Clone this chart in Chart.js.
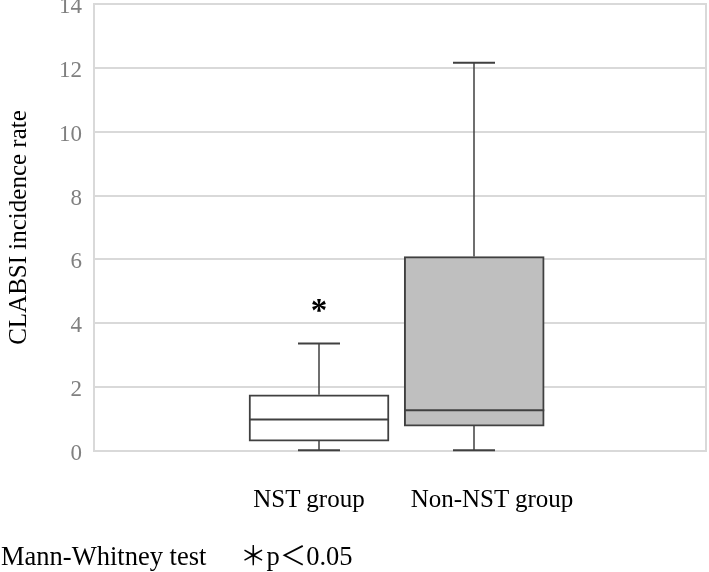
<!DOCTYPE html>
<html>
<head>
<meta charset="utf-8">
<script src="https://cdn.jsdelivr.net/npm/chart.js@4/dist/chart.umd.min.js"></script>
<style>
html, body { margin: 0; padding: 0; background: #ffffff; }
#wrap { position: relative; width: 709px; height: 572px; overflow: hidden; }
#c { position: absolute; left: 0; top: 0; }
.lbl { position: absolute; font-family: "Liberation Serif", "Times New Roman", serif; font-size: 25px; line-height: 25px; color: #000; white-space: nowrap; }
.cat { transform: translateX(-50%); }
.foot { font-size: 26.5px; line-height: 26px; }
.cjk { font-family: "Liberation Serif", "Noto Sans CJK JP", serif; }
</style>
</head>
<body>
<div id="wrap">
  <canvas id="c" width="709" height="572"></canvas>
  <div class="lbl cat" id="cat0" style="left:309px; top:486px;"></div>
  <div class="lbl cat" id="cat1" style="left:492px; top:486px;"></div>
  <div class="lbl foot" style="left:1px; top:543px;">Mann-Whitney test</div>
  <div class="lbl foot cjk" style="left:240px; top:543px;">＊p＜0.05</div>
</div>
<script>
// ---- data ----
const categories = ['NST group', 'Non-NST group'];
const whiskerMin = [0.02, 0.02];
const q1 = [0.31, 0.78];
const median = [0.99, 1.28];
const q3 = [1.76, 6.09];
const whiskerMax = [3.37, 12.16];
const significance = ['*', ''];
const yTickLabels = ['0', '2', '4', '6', '8', '10', '12', '14'];

// ---- layout / style ----
const positions = categories.map((_, i) => i + 1);
const boxFill = ['#ffffff', '#bfbfbf'];
const stroke = '#404040';
const serif = '"Liberation Serif", "Times New Roman", serif';

categories.forEach((c, i) => { document.getElementById('cat' + i).textContent = c; });

const frame = {
  id: 'frame',
  beforeDatasetsDraw(chart) {
    const { ctx, chartArea: a } = chart;
    ctx.save();
    ctx.strokeStyle = '#d9d9d9';
    ctx.lineWidth = 2;
    ctx.beginPath();
    ctx.moveTo(a.right - 1, a.top);
    ctx.lineTo(a.right - 1, a.bottom);
    ctx.stroke();
    ctx.restore();
  }
};

const boxPlot = {
  id: 'boxPlot',
  afterDatasetsDraw(chart) {
    const { ctx, scales: { x, y } } = chart;
    const meta = chart.getDatasetMeta(0);
    ctx.save();
    ctx.strokeStyle = stroke;
    categories.forEach((c, i) => {
      const el = meta.data[i];
      const cx = Math.round(x.getPixelForValue(positions[i]));
      const half = el.width / 2;
      const capHalf = 21;
      const yMax = y.getPixelForValue(whiskerMax[i]);
      const yMin = y.getPixelForValue(whiskerMin[i]);
      const yQ1 = y.getPixelForValue(q1[i]);
      const yQ3 = y.getPixelForValue(q3[i]);
      const yMed = y.getPixelForValue(median[i]);
      // whiskers
      ctx.lineWidth = 1.5;
      ctx.beginPath();
      ctx.moveTo(cx, yQ3); ctx.lineTo(cx, yMax);
      ctx.moveTo(cx, yQ1); ctx.lineTo(cx, yMin);
      ctx.stroke();
      // caps
      ctx.lineWidth = 2;
      ctx.beginPath();
      ctx.moveTo(cx - capHalf, yMax); ctx.lineTo(cx + capHalf, yMax);
      ctx.moveTo(cx - capHalf, yMin); ctx.lineTo(cx + capHalf, yMin);
      ctx.stroke();
      // median
      ctx.beginPath();
      ctx.moveTo(el.x - half, yMed); ctx.lineTo(el.x + half, yMed);
      ctx.stroke();
      // significance mark
      if (significance[i]) {
        ctx.fillStyle = '#000';
        ctx.font = 'bold 33px ' + serif;
        ctx.textAlign = 'center';
        ctx.textBaseline = 'alphabetic';
        ctx.fillText(significance[i], cx, yMax - 22);
      }
    });
    ctx.restore();
  }
};

new Chart(document.getElementById('c'), {
  type: 'bar',
  data: {
    datasets: [{
      label: 'IQR',
      data: positions.map((p, i) => ({ x: p, y: [q1[i], q3[i]] })),
      backgroundColor: boxFill,
      borderColor: stroke,
      borderWidth: 2,
      borderSkipped: false,
      barThickness: 140
    }]
  },
  options: {
    responsive: false,
    animation: false,
    devicePixelRatio: 1,
    layout: { padding: { left: 0, top: 4, right: 2, bottom: 121 } },
    plugins: { legend: { display: false }, tooltip: { enabled: false } },
    scales: {
      x: {
        type: 'linear',
        display: false,
        min: -0.45,
        max: 3.5,
        offset: false
      },
      y: {
        min: 0,
        max: 14,
        ticks: {
          stepSize: 2,
          padding: 12,
          labelOffset: 3,
          color: '#808080',
          font: { family: serif, size: 23 },
          callback: (v, i) => yTickLabels[i]
        },
        grid: { color: '#d9d9d9', lineWidth: 2, drawTicks: false },
        border: { display: true, color: '#d9d9d9', width: 2 },
        title: {
          display: true,
          text: 'CLABSI incidence rate',
          color: '#000',
          font: { family: serif, size: 25 },
          padding: { top: 4, bottom: 0 }
        },
        afterFit(s) { s.width = 94; s.paddingTop = 0; s.paddingBottom = 0; }
      }
    }
  },
  plugins: [frame, boxPlot]
});
</script>
</body>
</html>
